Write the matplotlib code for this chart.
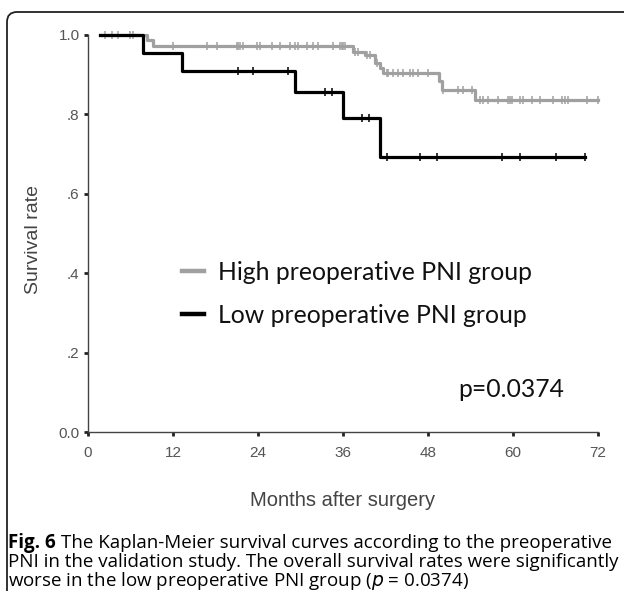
import numpy as np
import matplotlib
matplotlib.use("Agg")
import matplotlib.pyplot as plt
from matplotlib import font_manager
from matplotlib.patches import FancyBboxPatch
from matplotlib.transforms import IdentityTransform

# Kaplan-Meier steps (months, survival)
high_times = [1.7, 8.3, 9.2, 37.4, 39.1, 40.5, 41.2, 41.7, 49.5, 50.0, 54.7, 72.0]
high_surv = [1.0, 0.987, 0.972, 0.958, 0.950, 0.929, 0.917, 0.905, 0.883, 0.861, 0.836, 0.836]
high_censor = [2.4, 3.4, 4.3, 5.9, 6.4, 12.0, 16.8, 18.2, 21.0, 21.2, 21.5, 21.9,
               23.9, 24.3, 26.0, 27.1, 28.5, 29.2, 29.7, 30.9, 31.8, 32.4, 34.6,
               35.6, 35.9, 36.0, 36.3, 37.7, 38.1, 39.4, 39.8, 40.8, 42.2, 42.4,
               43.1, 43.8, 44.5, 45.5, 45.9, 46.6, 48.0, 50.1, 52.2, 52.9, 54.2,
               55.3, 55.8, 56.5, 57.9, 59.3, 59.6, 59.9, 61.0, 61.4, 62.7, 63.8,
               65.6, 66.9, 67.3, 67.8, 70.4, 72.0]

low_times = [1.7, 7.8, 13.3, 29.2, 36.0, 41.2, 70.2]
low_surv = [1.0, 0.955, 0.910, 0.857, 0.791, 0.693, 0.693]
low_censor = [21.2, 23.3, 28.2, 33.5, 34.4, 38.7, 39.6, 42.2, 46.9, 49.3,
              58.5, 61.0, 66.0, 70.2]

xticks = [0, 12, 24, 36, 48, 60, 72]
yticks = [0.0, 0.2, 0.4, 0.6, 0.8, 1.0]
ytick_labels = ["0.0", ".2", ".4", ".6", ".8", "1.0"]

caption_bold = "Fig. 6"
caption_lines = [
    "The Kaplan-Meier survival curves according to the preoperative",
    "PNI in the validation study. The overall survival rates were significantly",
    "worse in the low preoperative PNI group ($p$ = 0.0374)",
]

gray = "#a0a0a0"
installed = {f.name for f in font_manager.fontManager.ttflist}
tick_font = [f for f in ["Liberation Sans Narrow", "Liberation Sans", "DejaVu Sans"]
             if f in installed]


def surv_at(times, surv, t):
    idx = np.searchsorted(times, t, side="right") - 1
    return np.array(surv)[np.clip(idx, 0, len(surv) - 1)]


fig = plt.figure(figsize=(6.24, 5.91), dpi=100)
W, H = 624, 591

# rounded frame (top + left edges visible)
frame = FancyBboxPatch((7, -40), 640, H - 12 + 40,
                       boxstyle="round,pad=0,rounding_size=10",
                       transform=IdentityTransform(), fill=False,
                       edgecolor="#222222", linewidth=1.3)
fig.patches.append(frame)

ax = fig.add_axes([88 / W, (H - 432) / H, 510 / W, 397 / H])

ax.step(high_times, high_surv, where="post", color=gray, lw=2.3,
        label="High preoperative PNI group", clip_on=False, zorder=2)
ax.plot(high_censor, surv_at(high_times, high_surv, high_censor), ls="none",
        marker="|", ms=5.5, mew=1.1, color=gray, clip_on=False, zorder=2)

ax.step(low_times, low_surv, where="post", color="black", lw=2.3,
        label="Low preoperative PNI group", clip_on=False, zorder=3)
ax.plot(low_censor, surv_at(low_times, low_surv, low_censor), ls="none",
        marker="|", ms=5.5, mew=1.1, color="black", clip_on=False, zorder=3)

ax.set_xlim(0, 72)
ax.set_ylim(0, 1)
ax.set_xticks(xticks)
ax.set_yticks(yticks)
ax.set_yticklabels(ytick_labels)
for s in ["top", "right"]:
    ax.spines[s].set_visible(False)
for s in ["left", "bottom"]:
    ax.spines[s].set_color("#444444")
    ax.spines[s].set_linewidth(1.0)
ax.tick_params(direction="out", length=3, width=2, color="#222222",
               labelcolor="#555555", labelsize=11)
ax.tick_params(axis="x", pad=7)
ax.tick_params(axis="y", pad=3)
for lab in ax.get_xticklabels() + ax.get_yticklabels():
    lab.set_family(tick_font)

ax.set_xlabel("Months after surgery", family=tick_font, fontsize=14.5,
              color="#444444", va="center")
ax.xaxis.set_label_coords(0.5, (432 - 500) / 397)
ax.set_ylabel("Survival rate", family=tick_font, fontsize=14,
              color="#444444", va="center")
ax.yaxis.set_label_coords((33 - 88) / 510, (432 - 240) / 397)

leg = ax.legend(loc="center left", bbox_to_anchor=(0.184, 0.348), frameon=False,
                borderpad=0, borderaxespad=0,
                handlelength=0.9, handletextpad=0.55, labelspacing=0.8,
                prop={"family": "Lato", "size": 17.8})
for t in leg.get_texts():
    t.set_color("#111111")
for h in leg.legend_handles:
    h.set_linewidth(3.2)

ax.text(0.725, 0.106, "p=0.0374", transform=ax.transAxes, fontsize=17.8,
        family="Lato", color="#111111", va="center")

# caption, fitted to the frame width
cap_font = ["Open Sans", "DejaVu Sans"]
cap_x, cap_right = 8, 609
cap_y = [543, 562, 581]
size = 12.0
renderer = fig.canvas.get_renderer()
probe_b = fig.text(0, 0, caption_bold + " ", fontsize=size, family=cap_font,
                   fontweight="bold")
probe_r = fig.text(0, 0, caption_lines[0], fontsize=size, family=cap_font)
w_total = (probe_b.get_window_extent(renderer).width
           + probe_r.get_window_extent(renderer).width)
probe_b.remove()
probe_r.remove()
size = size * (cap_right - cap_x) / w_total

tb = fig.text(cap_x / W, 1 - cap_y[0] / H, caption_bold, fontsize=size,
              family=cap_font, fontweight="bold", va="center")
wb = tb.get_window_extent(renderer).width + 0.28 * size * 100 / 72
fig.text((cap_x + wb) / W, 1 - cap_y[0] / H, caption_lines[0], fontsize=size,
         family=cap_font, va="center")
for line, yy in zip(caption_lines[1:], cap_y[1:]):
    fig.text(cap_x / W, 1 - yy / H, line, fontsize=size, family=cap_font,
             va="center")

fig.savefig("out.png", dpi=100)
